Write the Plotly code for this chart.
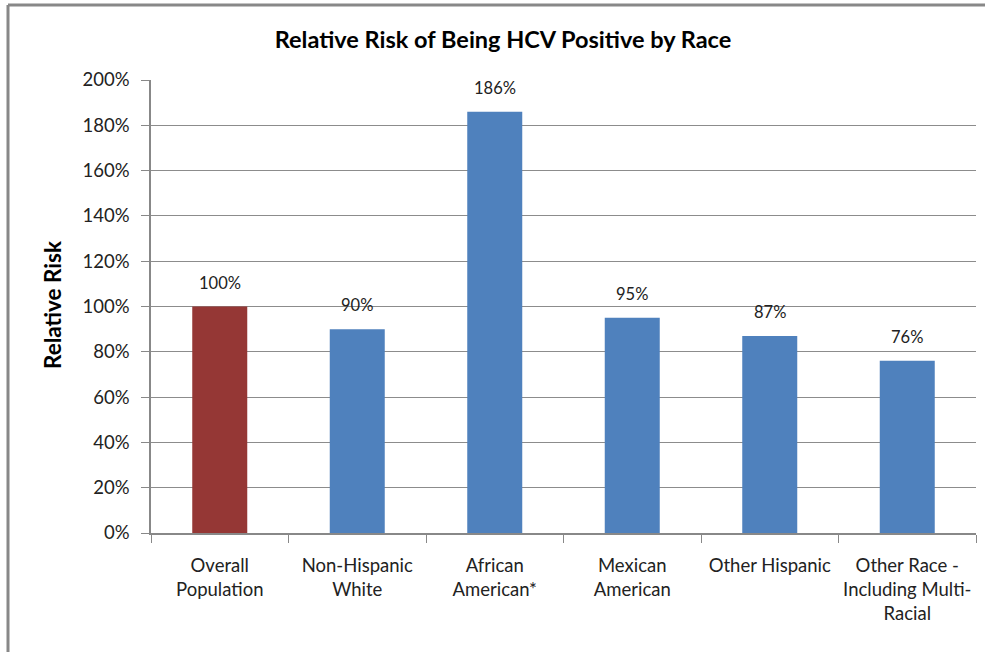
import plotly.graph_objects as go

categories = ["Overall<br>Population", "Non-Hispanic<br>White", "African<br>American*",
              "Mexican<br>American", "Other Hispanic", "Other Race -<br>Including Multi-<br>Racial"]
values = [100, 90, 186, 95, 87, 76]
labels = ["100%", "90%", "186%", "95%", "87%", "76%"]
colors = ["#953735", "#4F81BD", "#4F81BD", "#4F81BD", "#4F81BD", "#4F81BD"]
y_ticks = [0, 20, 40, 60, 80, 100, 120, 140, 160, 180, 200]
y_ticklabels = [f"{v}%" for v in y_ticks]

FONT = "Lato, 'Open Sans', sans-serif"

fig = go.Figure()
fig.add_trace(go.Bar(x=categories, y=values, marker=dict(color=colors, line=dict(width=0)),
                     width=0.4, showlegend=False, hoverinfo="skip"))

for c, v, t in zip(categories, values, labels):
    fig.add_annotation(x=c, y=v, text=t, showarrow=False, yanchor="bottom", yshift=12,
                       font=dict(family=FONT, size=16.5, color="#222"))

fig.add_annotation(xref="paper", yref="paper", x=(52 - 151) / 825, y=(533 - 305) / 453,
                   xanchor="center", yanchor="middle",
                   text="<b>Relative Risk</b>", textangle=-90, showarrow=False,
                   font=dict(family=FONT, size=22.5, color="#000"))

# outer chart border (top and left visible)
fig.add_shape(type="line", xref="paper", yref="paper",
              x0=(8 - 151) / 825, x1=1.2, y0=(533 - 5) / 453, y1=(533 - 5) / 453,
              line=dict(color="#888888", width=3))
fig.add_shape(type="line", xref="paper", yref="paper",
              x0=(8 - 151) / 825, x1=(8 - 151) / 825, y0=(533 - 5) / 453, y1=-0.5,
              line=dict(color="#888888", width=3))

fig.update_layout(
    width=985, height=652,
    margin=dict(l=151, r=9, t=80, b=119, autoexpand=False),
    paper_bgcolor="white", plot_bgcolor="white",
    title=dict(text="<b>Relative Risk of Being HCV Positive by Race</b>",
               x=503 / 985, xref="container", y=1 - 40 / 652, yref="container",
               xanchor="center", yanchor="middle",
               font=dict(family=FONT, size=23.5, color="#000")),
    bargap=0.6,
    font=dict(family=FONT, size=16, color="#222"),
)
fig.update_xaxes(showline=True, linecolor="#888888", linewidth=1.5,
                 ticks="outside", tickson="boundaries", ticklen=8, tickcolor="#888888",
                 ticklabelstandoff=15, tickangle=0, automargin=False,
                 tickfont=dict(family=FONT, size=18.5, color="#222"), showgrid=False,
                 fixedrange=True)
fig.update_yaxes(range=[0, 200], tickvals=y_ticks, ticktext=y_ticklabels,
                 showline=True, linecolor="#888888", linewidth=1.5, automargin=False,
                 ticks="outside", ticklen=8, tickcolor="#888888", ticklabelstandoff=8,
                 showgrid=True, gridcolor="#8c8c8c", gridwidth=1, zeroline=False,
                 tickfont=dict(family=FONT, size=18.5, color="#222"))

fig.write_html("out.html", config={"displayModeBar": False},
               post_script="document.body.style.margin='0px';")
